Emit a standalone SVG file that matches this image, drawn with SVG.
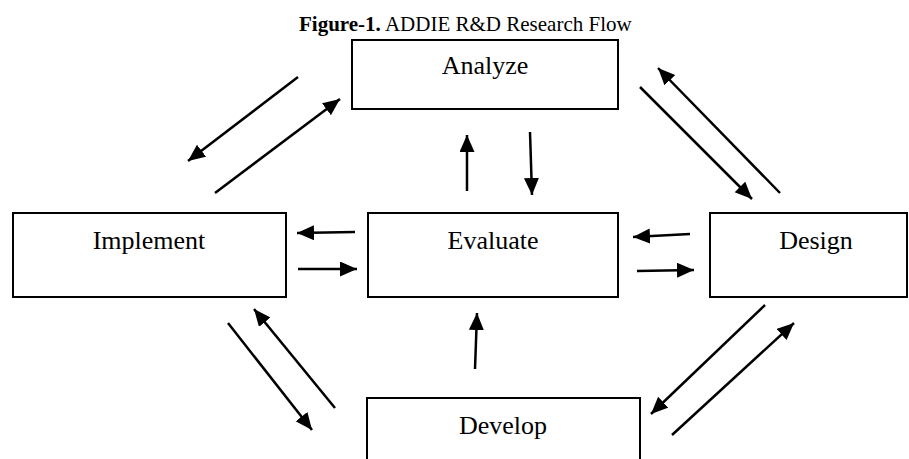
<svg xmlns="http://www.w3.org/2000/svg" width="909" height="459" viewBox="0 0 909 459">
<style>
.box{fill:#fff;stroke:#000;stroke-width:2}
.lbl{font-family:"Liberation Serif","Times New Roman",serif;font-size:26px;fill:#000;text-anchor:middle}
.title{font-family:"Liberation Serif","Times New Roman",serif;font-size:21px;fill:#000}
.arr{stroke:#000;stroke-width:2.5;fill:none;marker-end:url(#ah)}
</style>
<defs>
<marker id="ah" markerUnits="userSpaceOnUse" markerWidth="18" markerHeight="16" refX="17" refY="7.5" orient="auto">
<path d="M0,0 L17,7.5 L0,15 Z" fill="#000"/>
</marker>
</defs>
<rect width="909" height="459" fill="#fff"/>
<text class="title" x="299" y="31"><tspan font-weight="bold">Figure-1.</tspan> ADDIE R&amp;D Research Flow</text>
<g id="analyze"><rect class="box" x="352" y="40" width="266" height="69"/><text class="lbl" x="485" y="74">Analyze</text></g>
<g id="implement"><rect class="box" x="13" y="213" width="273" height="84"/><text class="lbl" x="149" y="249">Implement</text></g>
<g id="evaluate"><rect class="box" x="368" y="213" width="250" height="84"/><text class="lbl" x="493" y="249">Evaluate</text></g>
<g id="design"><rect class="box" x="710" y="213" width="197" height="84"/><text class="lbl" x="816" y="249">Design</text></g>
<g id="develop"><rect class="box" x="367" y="398" width="273" height="70"/><text class="lbl" x="503" y="434">Develop</text></g>
<g id="connectors">
<line class="arr" x1="298" y1="77" x2="188" y2="161"/>
<line class="arr" x1="215" y1="193" x2="340" y2="99"/>
<line class="arr" x1="355" y1="232" x2="297" y2="233"/>
<line class="arr" x1="298" y1="269" x2="357" y2="269"/>
<line class="arr" x1="467" y1="191" x2="467" y2="135"/>
<line class="arr" x1="530" y1="132" x2="532" y2="195"/>
<line class="arr" x1="640" y1="87" x2="752" y2="199"/>
<line class="arr" x1="780" y1="193" x2="658" y2="68"/>
<line class="arr" x1="690" y1="234" x2="633" y2="237"/>
<line class="arr" x1="637" y1="271" x2="694" y2="270"/>
<line class="arr" x1="475" y1="369" x2="477" y2="313"/>
<line class="arr" x1="228" y1="323" x2="312" y2="430"/>
<line class="arr" x1="335" y1="408" x2="254" y2="309"/>
<line class="arr" x1="765" y1="305" x2="651" y2="414"/>
<line class="arr" x1="672" y1="435" x2="794" y2="323"/>
</g>
</svg>
